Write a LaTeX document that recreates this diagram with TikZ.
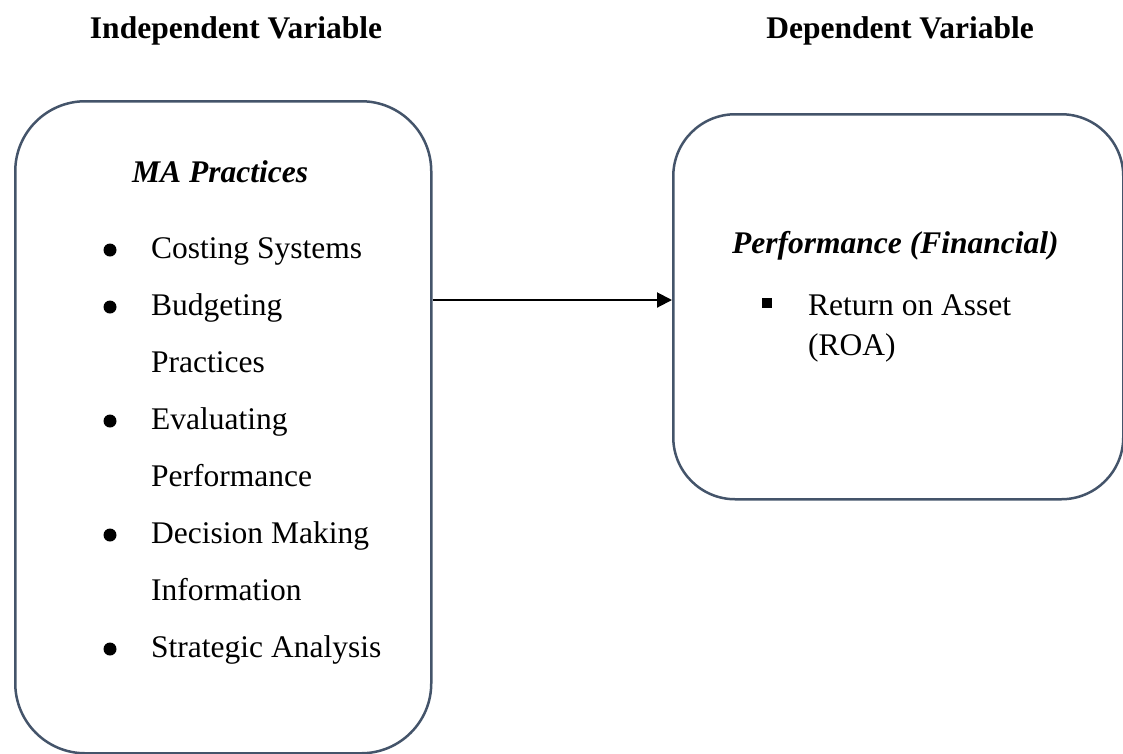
\documentclass[tikz,border=0pt]{standalone}
\usepackage{fontspec}
\setmainfont{Liberation Serif}
\usetikzlibrary{arrows.meta}
\definecolor{boxedge}{HTML}{44546A}
\tikzset{
  varbox/.style={draw=boxedge, line width=2.5pt, inner sep=0pt, anchor=north west},
  heading/.style={font=\fontsize{31.5}{38}\selectfont\bfseries, anchor=base, inner sep=0pt},
  title/.style={font=\fontsize{31.5}{38}\selectfont\bfseries\itshape, anchor=base west, inner sep=0pt},
  item/.style={font=\fontsize{31.5}{38}\selectfont, anchor=base west, inner sep=0pt},
  link/.style={line width=2pt, -{Triangle[length=15pt,width=15pt]}}
}

\begin{document}
\begin{tikzpicture}[x=1pt, y=-1pt]
    \useasboundingbox (0,0) rectangle (1123,753);

    % column headings
    \node[heading] (indep) at (236,38) {Independent Variable};
    \node[heading] (dep) at (900,38) {Dependent Variable};

    % the two boxes
    \node[varbox, rounded corners=70pt, minimum width=416pt, minimum height=652pt] (mabox) at (14,100) {};
    \node[varbox, rounded corners=62pt, minimum width=450pt, minimum height=385pt] (perfbox) at (672,113) {};

    % left box contents
    \node[title] (matitle) at (132,182) {MA Practices};
    \node[item] (cost) at (151,258) {Costing Systems};
    \node[item] (budg) at (151,315) {Budgeting};
    \node[item] (budg2) at (151,372) {Practices};
    \node[item] (eval) at (151,429) {Evaluating};
    \node[item] (eval2) at (151,486) {Performance};
    \node[item] (dec) at (151,543) {Decision Making};
    \node[item] (dec2) at (151,600) {Information};
    \node[item] (strat) at (151,657) {Strategic Analysis};

    \foreach \y in {258,315,429,543,657}
        \fill (110,\y-8) circle (6.5pt);

    % right box contents
    \node[title] (perftitle) at (732,253) {Performance (Financial)};
    \node[item] (roa) at (808,315) {Return on Asset};
    \node[item] (roa2) at (808,355) {(ROA)};
    \fill (762,298) rectangle (772,308);

    % relation
    \coordinate (linkrow) at (0,300);
    \draw[link] (mabox.east |- linkrow) -- (perfbox.west |- linkrow);
\end{tikzpicture}
\end{document}
